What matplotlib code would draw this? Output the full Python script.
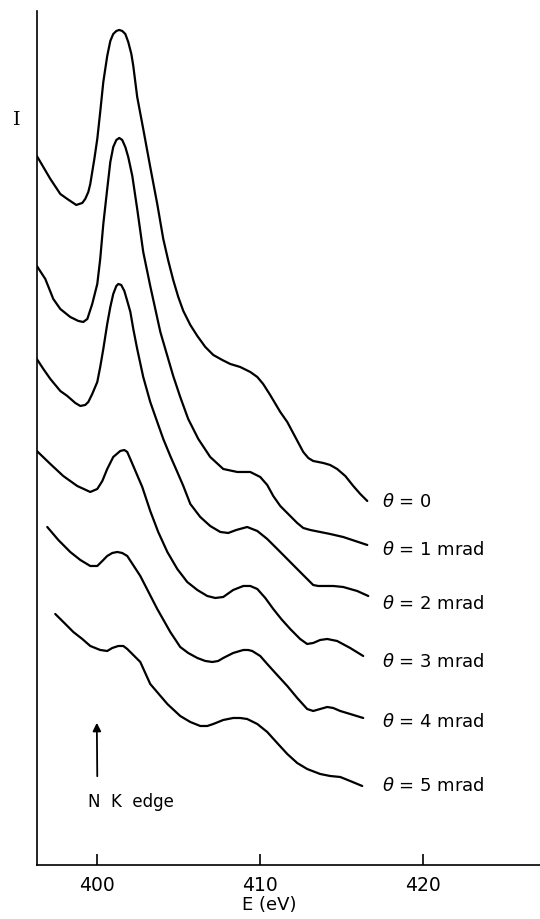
import matplotlib.pyplot as plt

# energy loss spectra near the N K edge, arbitrary intensity units
e0 = [396.32, 397.15, 397.76, 398.19, 398.74, 399.11, 399.29, 399.48, 399.60, 399.85, 400.03, 400.21,
      400.40, 400.64, 400.83, 401.01, 401.20, 401.38, 401.56, 401.75, 401.93, 402.12, 402.24, 402.48,
      402.85, 403.28, 403.71, 404.08, 404.39, 404.69, 405.00, 405.31, 405.74, 406.17, 406.66, 407.15,
      407.70, 408.19, 408.80, 409.42, 409.85, 410.21, 410.64, 411.26, 411.69, 412.18, 412.67, 412.98,
      413.28, 413.59, 413.90, 414.32, 414.75, 415.25, 415.74, 416.17, 416.60]
i0 = [7.09, 6.86, 6.71, 6.66, 6.60, 6.62, 6.66, 6.73, 6.81, 7.06, 7.26, 7.53,
      7.83, 8.09, 8.24, 8.31, 8.34, 8.35, 8.34, 8.31, 8.23, 8.11, 7.99, 7.68,
      7.36, 6.98, 6.61, 6.26, 6.04, 5.85, 5.68, 5.54, 5.40, 5.29, 5.18, 5.10,
      5.05, 5.01, 4.98, 4.93, 4.88, 4.81, 4.70, 4.53, 4.43, 4.28, 4.13, 4.07,
      4.04, 4.03, 4.02, 4.00, 3.96, 3.89, 3.79, 3.71, 3.64]

e1 = [396.32, 396.84, 397.33, 397.76, 398.37, 398.87, 399.17, 399.42, 399.72, 400.03, 400.21, 400.40,
      400.64, 400.83, 401.01, 401.20, 401.38, 401.56, 401.75, 401.93, 402.18, 402.48, 402.85, 403.28,
      403.59, 403.90, 404.33, 404.69, 405.12, 405.61, 406.23, 406.96, 407.76, 408.62, 409.42, 410.03,
      410.46, 410.83, 411.26, 411.87, 412.30, 412.67, 413.10, 413.71, 414.32, 415.12, 415.86, 416.60]
i1 = [5.99, 5.86, 5.66, 5.56, 5.48, 5.44, 5.43, 5.46, 5.61, 5.81, 6.06, 6.41,
      6.76, 7.03, 7.18, 7.25, 7.27, 7.25, 7.18, 7.08, 6.89, 6.56, 6.13, 5.79,
      5.56, 5.33, 5.09, 4.89, 4.68, 4.46, 4.26, 4.08, 3.96, 3.93, 3.93, 3.88,
      3.80, 3.69, 3.59, 3.49, 3.42, 3.37, 3.35, 3.33, 3.31, 3.28, 3.24, 3.20]

e2 = [396.32, 396.72, 397.15, 397.76, 398.19, 398.68, 398.99, 399.29, 399.48, 399.72, 400.03, 400.21,
      400.40, 400.64, 400.83, 401.01, 401.20, 401.32, 401.50, 401.69, 401.87, 402.06, 402.24, 402.48,
      402.85, 403.28, 403.71, 404.08, 404.51, 404.94, 405.31, 405.74, 406.35, 406.96, 407.58, 408.07,
      408.56, 409.23, 409.85, 410.46, 411.26, 411.87, 412.48, 412.91, 413.28, 413.59, 413.90, 414.51,
      415.12, 415.98, 416.66]
i2 = [5.06, 4.96, 4.86, 4.74, 4.69, 4.62, 4.59, 4.60, 4.63, 4.71, 4.83, 4.98,
      5.16, 5.41, 5.58, 5.71, 5.79, 5.81, 5.80, 5.74, 5.64, 5.53, 5.36, 5.16,
      4.88, 4.63, 4.43, 4.26, 4.09, 3.93, 3.79, 3.61, 3.48, 3.39, 3.33, 3.32,
      3.35, 3.38, 3.34, 3.26, 3.13, 3.03, 2.93, 2.86, 2.80, 2.79, 2.79, 2.79,
      2.78, 2.74, 2.69]

e3 = [396.32, 397.15, 397.94, 398.80, 399.60, 400.03, 400.34, 400.64, 401.01, 401.44, 401.69, 401.87,
      402.24, 402.79, 403.28, 403.77, 404.33, 404.94, 405.55, 406.17, 406.78, 407.27, 407.76, 408.37,
      408.99, 409.42, 409.85, 410.34, 410.83, 411.32, 411.87, 412.48, 412.91, 413.28, 413.71, 414.14,
      414.75, 415.55, 416.35]
i3 = [4.14, 4.01, 3.89, 3.79, 3.73, 3.76, 3.84, 3.96, 4.08, 4.14, 4.15, 4.13,
      3.99, 3.78, 3.54, 3.33, 3.13, 2.96, 2.83, 2.75, 2.69, 2.67, 2.68, 2.75,
      2.79, 2.79, 2.76, 2.67, 2.56, 2.46, 2.36, 2.26, 2.21, 2.22, 2.25, 2.26,
      2.24, 2.17, 2.09]

e4 = [396.96, 397.64, 398.37, 398.99, 399.60, 400.03, 400.34, 400.64, 400.95, 401.26, 401.56, 401.87,
      402.67, 403.71, 404.51, 405.12, 405.61, 406.17, 406.66, 407.09, 407.45, 407.76, 408.37, 408.99,
      409.29, 409.54, 410.03, 410.46, 411.07, 411.69, 412.30, 412.91, 413.28, 413.71, 414.14, 414.51,
      414.94, 415.55, 416.35]
i4 = [3.38, 3.25, 3.13, 3.05, 2.99, 2.99, 3.04, 3.09, 3.12, 3.13, 3.12, 3.09,
      2.89, 2.56, 2.33, 2.18, 2.12, 2.07, 2.04, 2.03, 2.04, 2.07, 2.12, 2.15,
      2.15, 2.14, 2.09, 2.01, 1.90, 1.79, 1.67, 1.56, 1.54, 1.56, 1.58, 1.57,
      1.54, 1.51, 1.47]

e5 = [397.45, 398.01, 398.56, 399.11, 399.60, 400.21, 400.64, 400.95, 401.32, 401.63, 401.87, 402.67,
      403.28, 404.33, 405.12, 405.74, 406.35, 406.78, 407.15, 407.76, 408.37, 408.80, 409.23, 409.85,
      410.46, 411.07, 411.69, 412.30, 412.91, 413.71, 414.32, 414.94, 415.55, 416.29]
i5 = [2.51, 2.42, 2.33, 2.26, 2.19, 2.15, 2.14, 2.17, 2.19, 2.19, 2.16, 2.03,
      1.81, 1.61, 1.49, 1.43, 1.39, 1.39, 1.41, 1.45, 1.47, 1.47, 1.46, 1.41,
      1.33, 1.22, 1.11, 1.02, 0.96, 0.91, 0.89, 0.88, 0.84, 0.79]

labels = ['= 0', '= 1 mrad', '= 2 mrad', '= 3 mrad', '= 4 mrad', '= 5 mrad']
label_y = [3.64, 3.16, 2.62, 2.04, 1.44, 0.80]
ticks = [400, 410, 420]

fig = plt.figure(figsize=(5.4, 9.2), dpi=100)
ax = fig.add_axes([0.0676, 0.0587, 0.9324, 0.9283])

for e, i in [(e0, i0), (e1, i1), (e2, i2), (e3, i3), (e4, i4), (e5, i5)]:
    ax.plot(e, i, color='black', lw=1.6, solid_capstyle='round', solid_joinstyle='round')

for txt, y in zip(labels, label_y):
    ax.text(417.5, y, r'$\theta$ ' + txt, fontsize=13, va='center', ha='left')

# N K edge marker
ax.annotate('', xy=(400.0, 1.45), xytext=(400.03, 0.86),
            arrowprops=dict(arrowstyle='-|>', color='black', lw=1.3, mutation_scale=12))
ax.text(399.45, 0.64, 'N  K  edge', fontsize=12, va='center', ha='left')

ax.text(395.1, 7.46, 'I', fontsize=14, family='DejaVu Serif', va='center', ha='center', clip_on=False)

ax.set_xlim(396.3, 427.2)
ax.set_ylim(0, 8.54)
ax.spines['top'].set_visible(False)
ax.spines['right'].set_visible(False)
ax.spines['left'].set_linewidth(1.2)
ax.spines['bottom'].set_linewidth(1.2)
ax.set_xticks(ticks)
ax.set_yticks([])
ax.tick_params(axis='x', direction='in', length=8, width=1.2, labelsize=13.5, pad=7)
ax.text(0.462, -0.046, 'E (eV)', transform=ax.transAxes, fontsize=13, ha='center', va='center')

fig.savefig('out.png', dpi=100)
